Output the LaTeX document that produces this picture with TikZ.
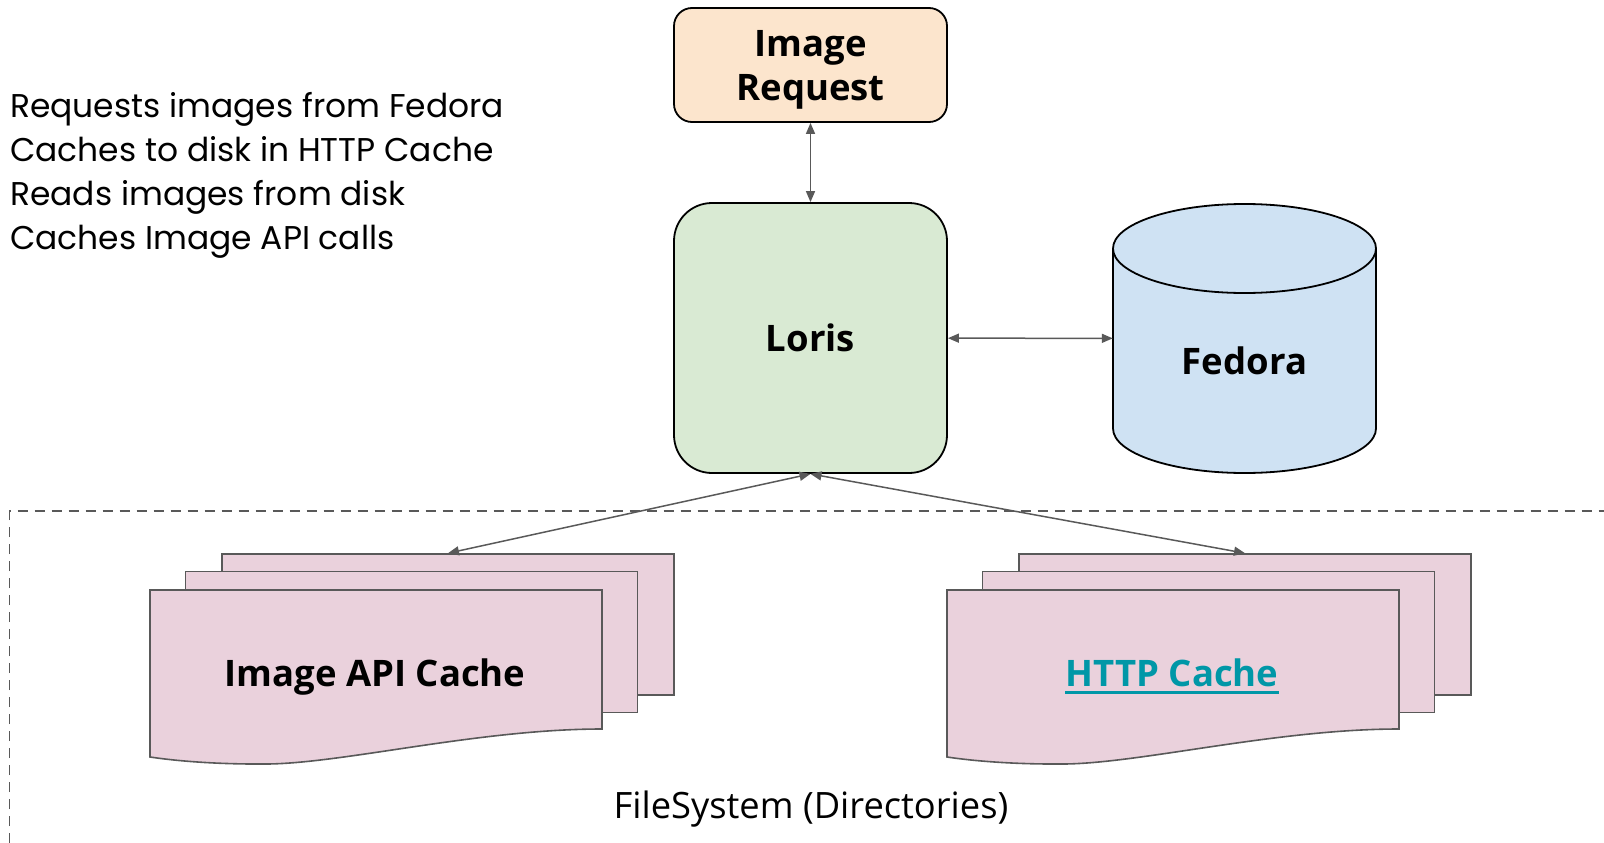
\documentclass[tikz,border=0pt]{standalone}
\usepackage{fontspec}
\setmainfont{Open Sans}
\newfontfamily\notefont{Poppins}
\usetikzlibrary{arrows.meta}

\definecolor{reqfill}{HTML}{FCE5CD}
\definecolor{lorisfill}{HTML}{D9EAD3}
\definecolor{dbfill}{HTML}{CFE2F3}
\definecolor{cachefill}{HTML}{EAD1DC}
\definecolor{edgegray}{HTML}{595959}
\definecolor{linkteal}{HTML}{0097A7}

\begin{document}
\begin{tikzpicture}[
    x=1pt, y=-1pt,
    box/.style={rectangle, draw=black, line width=1.8pt, rounded corners=18pt, align=center, font=\bfseries\fontsize{36.5}{44}\selectfont},
    sheet/.style={rectangle, draw=edgegray, fill=cachefill, line width=1.6pt, minimum width=452pt, minimum height=141pt},
    cachelbl/.style={inner sep=0pt, font=\bfseries\fontsize{36.5}{42}\selectfont},
    link/.style={draw=edgegray, line width=1.5pt, {Triangle[length=11pt,width=9pt]}-{Triangle[length=11pt,width=9pt]}}
]
\useasboundingbox (0,0) rectangle (1604,843);

% Notes
\node[anchor=west, align=left, inner sep=0pt, font=\notefont\fontsize{32.9}{44}\selectfont] (notes) at (10,175) {Requests images from Fedora\\Caches to disk in HTTP Cache\\Reads images from disk\\Caches Image API calls};

% Request and Loris
\node[box, fill=reqfill, text depth=0pt, minimum width=273pt, minimum height=114pt] (request) at (810.5,65) {Image\\Request};
\node[box, fill=lorisfill, rounded corners=38pt, minimum width=273pt, minimum height=270pt] (loris) at (810.5,338) {Loris};

% Fedora
\node[minimum width=263pt, minimum height=269pt, inner sep=0pt] (fedora) at (1244.5,338.5) {};
\filldraw[fill=dbfill, draw=black, line width=1.8pt] (1113,248.5) -- (1113,428.5) .. controls (1113,453.1) and (1171.9,473) .. (1244.5,473) .. controls (1317.1,473) and (1376,453.1) .. (1376,428.5) -- (1376,248.5) .. controls (1376,223.9) and (1317.1,204) .. (1244.5,204) .. controls (1171.9,204) and (1113,223.9) .. (1113,248.5) -- cycle;
\draw[black, line width=1.8pt] (1113,248.5) .. controls (1113,273.1) and (1171.9,293) .. (1244.5,293) .. controls (1317.1,293) and (1376,273.1) .. (1376,248.5);
\node[font=\bfseries\fontsize{36.5}{42}\selectfont] (fedoralbl) at (1244.5,361) {Fedora};

% FileSystem
\draw[edgegray, line width=1.5pt, dash pattern=on 10pt off 7pt] (9.5,860) -- (9.5,511) -- (1620,511);
\node[font=\fontsize{36.3}{42}\selectfont] (fslbl) at (811,809) {FileSystem (Directories)};

% Image API Cache
\node[sheet] (apiback) at (448,624.5) {};
\node[sheet] (apimid) at (411.5,642) {};
\filldraw[fill=cachefill, draw=edgegray, line width=1.6pt] (150,590) -- (602,590) -- (602,729) .. controls (480,729) and (345,763) .. (268,764) .. controls (210,764.5) and (170,760) .. (150,757) -- cycle;
\node[cachelbl, text depth=0pt] (apicache) at (375,673) {Image API Cache};

% HTTP Cache
\node[sheet] (httpback) at (1245,624.5) {};
\node[sheet] (httpmid) at (1208.5,642) {};
\filldraw[fill=cachefill, draw=edgegray, line width=1.6pt] (947,590) -- (1399,590) -- (1399,729) .. controls (1277,729) and (1142,763) .. (1065,764) .. controls (1007,764.5) and (967,760) .. (947,757) -- cycle;
\node[cachelbl, text=linkteal] (httpcache) at (1172,673) {HTTP Cache};
\draw[linkteal, line width=2.7pt] ([yshift=-6pt]httpcache.base west) -- ([yshift=-6pt]httpcache.base east);

% Connectors
\draw[link] (request) -- (loris);
\draw[link] (loris) -- (fedora);
\draw[link] (loris.south) -- (apiback.north);
\draw[link] (loris.south) -- (httpback.north);

\end{tikzpicture}
\end{document}
